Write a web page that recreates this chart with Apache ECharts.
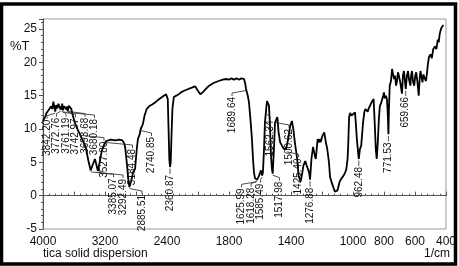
<!DOCTYPE html>
<html>
<head>
<meta charset="utf-8">
<script src="https://cdn.jsdelivr.net/npm/echarts@6/dist/echarts.min.js"></script>
<style>
  html, body { margin: 0; padding: 0; background: #fff; }
  #main { width: 459px; height: 266px; }
</style>
</head>
<body>
<div id="main"></div>
<script>
// wavenumber (1/cm) and %T
const wavenumbers = [
  4000, 3985, 3970, 3955, 3940, 3925, 3910, 3895, 3880, 3866, 3854, 3842, 3830, 3815, 3800, 3786,
  3773, 3767, 3761, 3752, 3743, 3726, 3710, 3694, 3687, 3680, 3666, 3650, 3634, 3620, 3590, 3567,
  3528, 3449, 3410, 3385, 3360, 3330, 3310, 3292, 3265, 3240, 3213, 3185, 3162, 3125, 3062, 3020,
  2975, 2950, 2937, 2915, 2900, 2885, 2862, 2835, 2812, 2790, 2775, 2750, 2740, 2712, 2690, 2662,
  2630, 2587, 2540, 2500, 2450, 2412, 2400, 2390, 2380, 2370, 2361, 2352, 2342, 2330, 2312, 2280,
  2250, 2220, 2187, 2125, 2080, 2037, 2010, 1985, 1965, 1950, 1933, 1900, 1867, 1840, 1820, 1800,
  1785, 1768, 1750, 1735, 1720, 1710, 1703, 1695, 1690, 1684, 1678, 1671, 1660, 1652, 1645, 1639,
  1632, 1626, 1622, 1618, 1606, 1594, 1586, 1581, 1574, 1568, 1562, 1555, 1548, 1542, 1535, 1529,
  1523, 1518, 1510, 1503, 1500, 1494, 1488, 1480, 1470, 1458, 1445, 1432, 1425, 1418, 1405, 1394,
  1385, 1375, 1369, 1360, 1351, 1338, 1330, 1320, 1308, 1300, 1289, 1283, 1277, 1268, 1258, 1252,
  1246, 1240, 1234, 1228, 1220, 1215, 1209, 1197, 1185, 1175, 1166, 1155, 1148, 1135, 1117, 1111,
  1100, 1086, 1074, 1061, 1050, 1043, 1035, 1031, 1025, 1018, 1010, 1000, 987, 982, 975, 967,
  962.5, 955, 947, 935, 927, 920, 913, 905, 900, 893, 880, 867, 860, 853, 847, 840,
  833, 827, 820, 813, 805, 800, 795, 788, 781, 775, 771.5, 768, 763, 755, 748, 740,
  735, 729, 722, 716, 710, 703, 695, 684, 678, 671, 664, 659.7, 652, 645, 639, 630,
  625, 619, 612, 605, 598, 592, 585, 576, 570, 565, 559, 552, 545, 541, 535, 529,
  522, 518, 510, 500, 492, 482, 470, 462, 453, 447, 441, 435, 429, 423, 417
];
const transmittance = [
  11.2, 11.5, 11.9, 12.4, 12.1, 12.9, 12.6, 13.4, 13.0, 14.1, 13.3, 12.6, 13.6, 13.1, 13.8, 13.3,
  12.9, 13.4, 12.9, 13.8, 12.8, 13.4, 13.6, 12.9, 13.4, 12.7, 13.5, 13.2, 13.0, 12.2, 11.0, 10.3,
  9.3, 7.3, 5.0, 3.8, 4.6, 5.5, 4.6, 3.7, 5.2, 6.8, 7.6, 8.2, 8.3, 8.4, 8.3, 8.4,
  8.3, 7.8, 7.0, 4.5, 2.5, 1.3, 2.2, 3.6, 4.0, 7.0, 8.5, 9.3, 10.0, 10.7, 12.0, 13.0,
  13.4, 13.7, 14.1, 14.5, 14.9, 15.2, 15.5, 14.5, 10.0, 5.5, 4.3, 5.0, 9.0, 13.0, 14.8, 15.0,
  15.2, 15.5, 15.7, 16.0, 16.2, 16.4, 15.9, 15.2, 15.6, 16.0, 16.4, 16.9, 17.2, 17.4, 17.5, 17.4,
  17.6, 17.4, 17.6, 17.4, 17.6, 17.3, 17.5, 16.8, 16.0, 15.8, 14.9, 14.0, 11.0, 8.5, 5.5, 3.5,
  2.6, 2.3, 2.6, 2.4, 3.0, 3.8, 3.0, 3.5, 7.0, 11.0, 12.5, 14.2, 14.5, 13.5, 10.0, 6.0,
  4.0, 3.3, 7.0, 11.0, 11.2, 11.0, 11.8, 9.5, 8.0, 7.5, 7.0, 7.0, 6.8, 8.5, 10.5, 11.2,
  10.0, 8.0, 7.0, 5.5, 3.0, 2.1, 3.0, 4.5, 5.2, 4.6, 4.5, 3.5, 2.4, 5.5, 7.3, 7.6,
  6.0, 5.5, 7.0, 8.5, 8.0, 8.5, 8.0, 9.0, 9.5, 8.0, 7.0, 5.0, 2.8, 1.8, 0.6, 0.45,
  0.8, 2.1, 2.6, 3.0, 3.5, 4.0, 5.5, 7.5, 11.8, 12.4, 12.0, 12.2, 12.5, 11.0, 8.5, 6.5,
  5.5, 7.0, 7.5, 11.0, 12.5, 13.0, 13.3, 12.6, 13.0, 13.3, 14.0, 14.5, 11.0, 7.0, 5.5, 8.0,
  11.5, 13.4, 13.8, 14.0, 15.0, 15.5, 14.6, 15.0, 14.5, 12.0, 9.2, 13.0, 16.5, 17.2, 19.0, 18.0,
  17.5, 18.0, 16.5, 17.2, 18.5, 17.9, 17.0, 15.3, 18.0, 18.7, 17.0, 16.0, 18.0, 18.7, 17.5, 16.5,
  18.0, 18.7, 17.0, 16.5, 18.0, 18.5, 17.2, 15.0, 17.5, 18.7, 18.0, 17.0, 18.2, 17.8, 17.5, 17.2,
  18.5, 19.5, 20.8, 21.2, 20.6, 22.0, 22.4, 22.0, 23.4, 23.0, 24.2, 24.8, 25.2, 25.4, 25.6
];

// annotated peaks
const peakLabels = ['3842.20', '3772.76', '3761.19', '3742.97', '3693.68', '3680.18', '3527.80',
  '3385.07', '3292.49', '3184.48', '2885.51', '2740.85', '2360.87', '1689.64', '1625.99', '1618.28',
  '1585.49', '1562.34', '1517.98', '1500.62', '1425.40', '1276.88', '962.48', '771.53', '659.66'];
const peakT = [12.6, 12.9, 12.9, 12.8, 12.9, 12.7, 9.3, 3.8, 3.7, 8.2, 1.3, 10.0, 4.3, 16.0, 2.3, 2.4,
  3.0, 12.5, 3.3, 11.2, 6.8, 2.4, 5.5, 9.2, 16.0];

const xTickLabels = [4000, 3200, 2400, 1800, 1400, 1000, 800, 600, 400];

const FONT = 'Liberation Sans, Arial, sans-serif';

// the scale above 2000 1/cm is compressed by half
const toT = w => w > 2000 ? 2000 + (w - 2000) / 2 : w;
const fromT = t => t > 2000 ? 2000 + (t - 2000) * 2 : t;

function spread(xs, d, lo, hi) {
  const x = xs.slice();
  for (let k = 0; k < 300; k++) {
    for (let i = 1; i < x.length; i++) {
      const g = x[i] - x[i - 1];
      if (g < d) { const s = (d - g) / 2; x[i - 1] -= s; x[i] += s; }
    }
    for (let i = 0; i < x.length; i++) x[i] = Math.min(hi, Math.max(lo, x[i]));
  }
  for (let i = 1; i < x.length; i++) x[i] = Math.max(x[i], x[i - 1] + d);
  return x;
}

let layout = null;

var myChart = echarts.init(document.getElementById('main'));
var option;

option = {
  animation: false,
  grid: { left: 43, right: 9, top: 19, bottom: 37, show: true, borderColor: '#999', borderWidth: 1 },
  xAxis: {
    type: 'value',
    min: 400,
    max: 3000,
    interval: 200,
    inverse: true,
    axisLine: { lineStyle: { color: '#555' } },
    axisTick: { inside: true, length: 4, lineStyle: { color: '#555' } },
    minorTick: { show: true, splitNumber: 5, length: 2, lineStyle: { color: '#555' } },
    splitLine: { show: false },
    axisLabel: {
      margin: 7,
      fontSize: 12,
      fontFamily: FONT,
      color: '#111',
      formatter: t => {
        const w = Math.round(fromT(t));
        return xTickLabels.indexOf(w) >= 0 ? String(w) : '';
      }
    }
  },
  yAxis: {
    type: 'value',
    min: -5,
    max: 26.5,
    interval: 5,
    axisLine: { show: true, lineStyle: { color: '#555' } },
    axisTick: { show: true, length: 4, lineStyle: { color: '#555' } },
    minorTick: { show: true, splitNumber: 5, length: 2, lineStyle: { color: '#555' } },
    splitLine: { show: false },
    axisLabel: { margin: 6, fontSize: 12, fontFamily: FONT, color: '#111', showMaxLabel: false }
  },
  graphic: [
    { type: 'text', left: 10, top: 40, style: { text: '%T', fontSize: 13, fontFamily: FONT, fill: '#111' } },
    { type: 'text', left: 43, top: 248, style: { text: 'tica solid dispersion', fontSize: 12, fontFamily: FONT, fill: '#111' } },
    { type: 'text', right: 9, top: 248, style: { text: '1/cm', fontSize: 12, fontFamily: FONT, fill: '#111' } },
    {
      type: 'rect', z: 100, silent: true,
      shape: { x: 1.5, y: 4, width: 454, height: 260 },
      style: { fill: null, stroke: '#000', lineWidth: 3.5 }
    }
  ],
  series: [
    {
      type: 'line',
      data: wavenumbers.map((w, i) => [toT(w), transmittance[i]]),
      showSymbol: false,
      lineStyle: { color: '#000', width: 1.8 },
      z: 3
    },
    {
      type: 'custom',
      silent: true,
      z: 4,
      data: peakLabels.map((s, i) => [toT(parseFloat(s)), peakT[i]]),
      renderItem: function (params, api) {
        if (!layout) {
          const pts = peakLabels.map((s, i) => api.coord([toT(parseFloat(s)), peakT[i]]));
          const xs = spread(pts.map(p => p[0]), 9.5, 47, 446);
          layout = pts.map((p, i) => ({ px: p[0], py: p[1], lx: xs[i] }));
        }
        const L = layout[params.dataIndex];
        const top = L.py + 7;
        return {
          type: 'group',
          children: [
            {
              type: 'polyline',
              shape: { points: [[L.px, L.py + 1.5], [L.lx, top - 3], [L.lx, top]] },
              style: { stroke: '#222', lineWidth: 0.8, fill: null }
            },
            {
              type: 'text',
              x: L.lx,
              y: top + 1,
              rotation: Math.PI / 2,
              style: {
                text: peakLabels[params.dataIndex],
                fontSize: 10,
                fontFamily: FONT,
                fill: '#111',
                align: 'right',
                verticalAlign: 'middle'
              }
            }
          ]
        };
      }
    }
  ]
};

option && myChart.setOption(option);
</script>
</body>
</html>
